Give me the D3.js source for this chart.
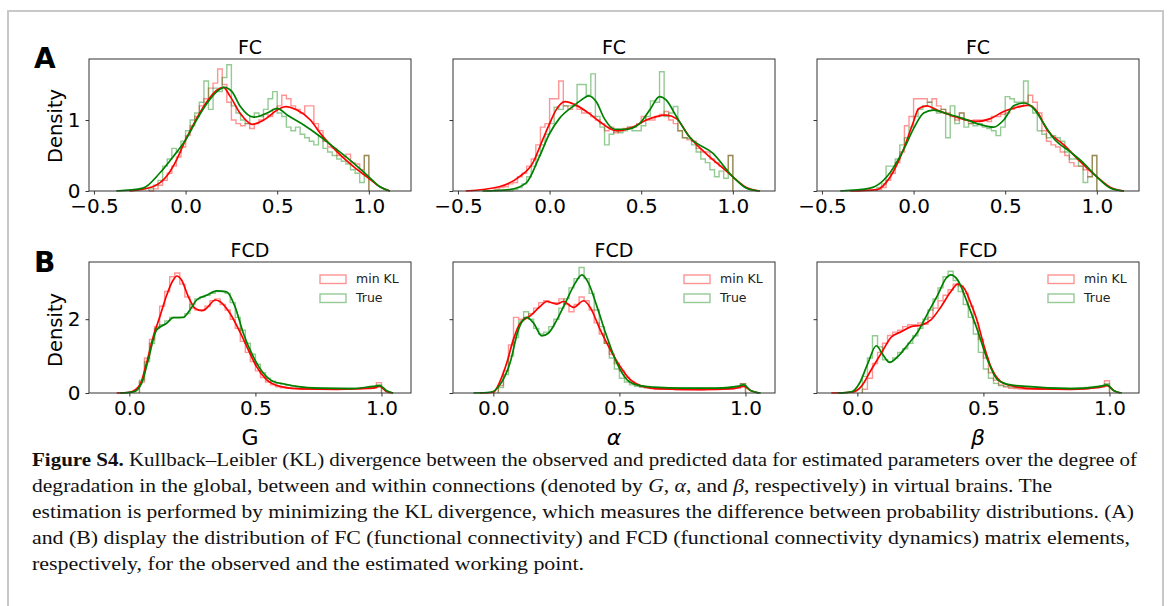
<!DOCTYPE html>
<html>
<head>
<meta charset="utf-8">
<script src="https://cdn.jsdelivr.net/npm/d3@7"></script>
<style>
  body { margin: 0; background: #fff; }
  svg { display: block; }
</style>
</head>
<body>
<svg id="fig" width="1170" height="606"></svg>
<script>
// ---- labels and ticks ----
const paramNames = ["G", "α", "β"];
const rowTitles = ["FC", "FCD"];
const legendLabels = ["min KL", "True"];
const xTicksFC = [-0.5, 0.0, 0.5, 1.0];
const xTicksFCD = [0.0, 0.5, 1.0];
const yTicksFC = [0, 1];
const yTicksFCD = [0, 2];

// ---- histogram bins ----
const binWidthFC = 0.025;
const binStartFC = [-0.2, -0.3, -0.2];
const binWidthFCD = 0.02;
const binStartFCD = [0.04, 0.02, 0.02];

// ---- FC histograms (density per bin) ----
const histFC_G_minKL = [
  0, 0.03, 0.08, 0.15, 0.25, 0.35, 0.48, 0.62,
  0.78, 0.92, 1.05, 1.2, 1.3, 1.45, 1.52, 1.72,
  1.5, 1.25, 1.0, 0.95, 0.92, 0.95, 0.88, 0.95,
  1.0, 1.08, 1.05, 1.15, 1.2, 1.35, 1.3, 1.2,
  1.15, 1.1, 1.2, 1.2, 0.95, 0.85, 0.7, 0.62,
  0.6, 0.5, 0.48, 0.52, 0.4, 0.38, 0.3, 0.5];
const histFC_G_true = [
  0.03, 0.08, 0.15, 0.35, 0.45, 0.6, 0.55, 0.7,
  0.85, 1.0, 1.1, 1.25, 1.55, 1.15, 1.45, 1.4,
  1.6, 1.78, 1.2, 1.1, 1.0, 0.95, 1.05, 1.1,
  1.05, 1.15, 1.3, 1.4, 1.1, 1.05, 0.9, 0.85,
  0.9, 0.8, 0.75, 0.7, 0.65, 0.77, 0.6, 0.55,
  0.5, 0.45, 0.42, 0.38, 0.3, 0.25, 0.12, 0.5];
const histFC_alpha_minKL = [
  0.03, 0.05, 0.06, 0.1, 0.12, 0.2, 0.25, 0.35,
  0.45, 0.65, 0.9, 0.95, 1.3, 1.3, 1.55, 1.2,
  1.15, 1.2, 1.15, 1.1, 1.1, 1.05, 1.0, 0.95,
  0.85, 0.9, 0.82, 0.85, 0.88, 0.9, 0.9, 0.95,
  1.05, 1.0, 1.0, 1.05, 1.08, 1.12, 1.0, 0.95,
  0.85, 0.75, 0.72, 0.7, 0.6, 0.55, 0.55, 0.45,
  0.4, 0.35, 0.3, 0.5];
const histFC_alpha_true = [
  0, 0, 0, 0, 0.02, 0.05, 0.1, 0.2,
  0.35, 0.5, 0.65, 0.8, 0.95, 1.18, 1.15, 1.2,
  1.2, 1.2, 1.5, 1.5, 1.35, 1.65, 1.05, 0.9,
  0.65, 0.8, 0.85, 0.82, 0.85, 0.9, 0.85, 0.85,
  0.92, 1.05, 1.27, 1.25, 1.68, 1.05, 1.1, 1.19,
  0.85, 0.75, 0.74, 0.65, 0.55, 0.45, 0.4, 0.3,
  0.2, 0.28, 0.18, 0.5];
const histFC_beta_minKL = [
  0.02, 0.05, 0.15, 0.25, 0.4, 0.55, 0.92, 1.05,
  1.3, 1.3, 1.3, 1.25, 1.3, 1.2, 1.15, 1.1,
  1.05, 1.0, 1.1, 1.0, 0.95, 1.0, 1.0, 1.0,
  0.98, 1.05, 1.05, 1.08, 1.1, 1.15, 1.2, 1.2,
  1.25, 1.35, 1.25, 1.1, 0.85, 0.7, 0.65, 0.62,
  0.55, 0.5, 0.4, 0.35, 0.35, 0.3, 0.2, 0.5];
const histFC_beta_true = [
  0.05, 0.1, 0.35, 0.35, 0.45, 0.65, 0.75, 0.9,
  1.05, 1.15, 1.2, 1.25, 1.15, 1.1, 1.15, 0.75,
  1.2, 0.95, 1.1, 0.9, 0.95, 0.92, 0.95, 0.9,
  0.88, 0.85, 0.78, 0.9, 1.33, 1.3, 1.25, 1.25,
  1.55, 1.2, 1.1, 0.85, 0.8, 0.75, 0.78, 0.75,
  0.7, 0.55, 0.45, 0.45, 0.35, 0.12, 0.2, 0.5];

// ---- FCD histograms ----
const histFCD_G_minKL = [
  0.3, 0.95, 1.45, 1.8, 2.35, 2.75, 3.15, 3.25,
  2.95, 2.6, 2.3, 2.25, 2.25, 2.35, 2.5, 2.55,
  2.4, 2.25, 2.0, 1.75, 1.4, 1.1, 0.85, 0.6,
  0.42, 0.3, 0.22, 0.17, 0.14, 0.13, 0.12, 0.12,
  0.11, 0.11, 0.11, 0.1, 0.1, 0.1, 0.1, 0.1,
  0.1, 0.1, 0.11, 0.11, 0.12, 0.12, 0.13, 0.28];
const histFCD_G_true = [
  0.35, 0.85, 1.35, 1.75, 1.85, 1.95, 2.05, 2.05,
  2.05, 2.15, 2.4, 2.55, 2.6, 2.65, 2.7, 2.75,
  2.75, 2.7, 2.45, 2.05, 1.7, 1.35, 1.05, 0.78,
  0.55, 0.4, 0.32, 0.27, 0.24, 0.21, 0.19, 0.17,
  0.15, 0.14, 0.13, 0.13, 0.13, 0.12, 0.12, 0.12,
  0.12, 0.12, 0.13, 0.13, 0.14, 0.15, 0.17, 0.22];
const histFCD_alpha_minKL = [
  0.2, 0.6, 1.3, 2.05, 2.0, 2.05, 2.15, 2.3,
  2.45, 2.5, 2.45, 2.45, 2.55, 2.4, 2.2, 2.4,
  2.6, 2.5, 2.25, 1.9, 1.6, 1.35, 1.05, 0.8,
  0.6, 0.42, 0.3, 0.22, 0.17, 0.14, 0.12, 0.11,
  0.1, 0.1, 0.1, 0.09, 0.09, 0.09, 0.09, 0.09,
  0.09, 0.1, 0.1, 0.1, 0.11, 0.11, 0.12, 0.13,
  0.25];
const histFCD_alpha_true = [
  0.15, 0.5, 1.0, 1.5, 1.95, 2.2, 2.0, 1.75,
  1.6, 1.65, 1.8, 2.0, 2.3, 2.55, 2.85, 3.1,
  3.4, 3.1, 2.7, 2.25, 1.8, 1.35, 0.95, 0.65,
  0.4, 0.3, 0.22, 0.18, 0.16, 0.15, 0.14, 0.14,
  0.13, 0.13, 0.13, 0.13, 0.13, 0.13, 0.13, 0.13,
  0.13, 0.13, 0.13, 0.13, 0.14, 0.15, 0.16, 0.18,
  0.25];
const histFCD_beta_minKL = [
  0.1, 0.4, 0.8, 1.1, 1.35, 1.56, 1.65, 1.7,
  1.8, 1.85, 1.85, 1.9, 1.86, 2.05, 2.3, 2.5,
  2.65, 2.8, 2.95, 2.9, 2.7, 2.35, 1.9, 1.45,
  0.95, 0.55, 0.35, 0.22, 0.16, 0.13, 0.12, 0.11,
  0.1, 0.1, 0.1, 0.1, 0.1, 0.1, 0.1, 0.1,
  0.1, 0.1, 0.1, 0.11, 0.12, 0.13, 0.14, 0.16,
  0.33];
const histFCD_beta_true = [
  0.45, 0.95, 1.55, 1.25, 0.9, 0.85, 0.95, 1.1,
  1.2, 1.35, 1.55, 1.75, 2.0, 2.25, 2.55, 2.85,
  3.15, 3.3, 3.05, 2.75, 2.4, 2.05, 1.6, 1.1,
  0.65, 0.4, 0.26, 0.2, 0.18, 0.16, 0.15, 0.15,
  0.14, 0.14, 0.14, 0.13, 0.13, 0.13, 0.13, 0.13,
  0.13, 0.13, 0.13, 0.14, 0.15, 0.16, 0.18, 0.2,
  0.25];

// ---- kernel density estimates [value, density] ----
const kdeFC_G_minKL = [[-0.306,0],[-0.179,0.06],[-0.106,0.2],[-0.049,0.44],[0,0.72],[0.06,1.02],[0.117,1.26],[0.17,1.42],[0.205,1.46],[0.244,1.33],[0.299,1.09],[0.363,0.94],[0.426,1.0],[0.5,1.14],[0.545,1.19],[0.608,1.14],[0.681,1.0],[0.736,0.81],[0.827,0.55],[0.918,0.34],[1.0,0.18],[1.06,0.06],[1.115,0]];
const kdeFC_G_true = [[-0.378,0],[-0.233,0.04],[-0.142,0.25],[-0.069,0.48],[0,0.72],[0.06,1.0],[0.117,1.235],[0.171,1.4],[0.211,1.46],[0.253,1.4],[0.299,1.19],[0.372,1.04],[0.445,1.1],[0.5,1.165],[0.554,1.07],[0.645,0.93],[0.736,0.765],[0.827,0.58],[0.918,0.39],[1.0,0.2],[1.06,0.06],[1.115,0]];
const kdeFC_alpha_minKL = [[-0.457,0],[-0.275,0.06],[-0.166,0.2],[-0.093,0.39],[-0.038,0.72],[0,0.95],[0.035,1.14],[0.084,1.26],[0.144,1.21],[0.217,1.09],[0.272,0.98],[0.364,0.85],[0.455,0.9],[0.528,1.0],[0.637,1.07],[0.692,1.02],[0.764,0.76],[0.874,0.48],[0.956,0.3],[1.0,0.2],[1.074,0.05],[1.147,0]];
const kdeFC_alpha_true = [[-0.366,0],[-0.22,0.02],[-0.129,0.11],[-0.056,0.48],[0,0.81],[0.053,1.02],[0.126,1.19],[0.172,1.28],[0.213,1.34],[0.254,1.26],[0.299,1.02],[0.354,0.87],[0.418,0.87],[0.491,0.95],[0.546,1.14],[0.6,1.33],[0.637,1.28],[0.692,1.05],[0.764,0.76],[0.892,0.53],[1.0,0.2],[1.074,0.04],[1.147,0]];
const kdeFC_beta_minKL = [[-0.346,0],[-0.2,0.02],[-0.127,0.2],[-0.064,0.53],[0,0.98],[0.027,1.16],[0.073,1.2],[0.128,1.14],[0.2,1.07],[0.273,1.01],[0.346,0.98],[0.419,1.02],[0.492,1.12],[0.565,1.18],[0.629,1.21],[0.674,1.12],[0.729,0.86],[0.82,0.65],[0.911,0.41],[1.0,0.2],[1.075,0.05],[1.148,0]];
const kdeFC_beta_true = [[-0.4,0],[-0.237,0.04],[-0.146,0.2],[-0.055,0.58],[0,0.88],[0.055,1.1],[0.109,1.14],[0.182,1.09],[0.273,1.02],[0.346,0.95],[0.437,0.9],[0.492,1.0],[0.546,1.2],[0.601,1.24],[0.656,1.16],[0.71,0.95],[0.765,0.74],[0.856,0.55],[0.929,0.39],[1.0,0.2],[1.075,0.04],[1.148,0]];

const kdeFCD_G_minKL = [[-0.05,0],[0,0.02],[0.042,0.22],[0.068,0.81],[0.095,1.53],[0.121,2.07],[0.148,2.65],[0.174,3.06],[0.188,3.17],[0.207,3.06],[0.234,2.61],[0.26,2.3],[0.287,2.23],[0.307,2.3],[0.34,2.52],[0.359,2.48],[0.399,2.16],[0.438,1.66],[0.478,1.08],[0.504,0.72],[0.544,0.36],[0.597,0.18],[0.676,0.11],[0.821,0.1],[0.966,0.13],[0.993,0.18],[1.019,0.04],[1.046,0]];
const kdeFCD_G_true = [[-0.037,0],[0.016,0.03],[0.049,0.27],[0.075,0.9],[0.108,1.71],[0.148,1.89],[0.174,2.04],[0.214,2.05],[0.24,2.25],[0.267,2.52],[0.307,2.65],[0.346,2.77],[0.386,2.74],[0.419,2.34],[0.452,1.62],[0.491,0.99],[0.531,0.54],[0.571,0.31],[0.61,0.25],[0.663,0.18],[0.755,0.13],[0.888,0.12],[0.966,0.18],[0.993,0.2],[1.019,0.07],[1.046,0]];
const kdeFCD_alpha_minKL = [[-0.053,0],[0,0.02],[0.026,0.31],[0.053,0.81],[0.079,1.44],[0.106,1.89],[0.146,2.09],[0.185,2.34],[0.212,2.48],[0.252,2.41],[0.278,2.48],[0.318,2.32],[0.358,2.5],[0.384,2.32],[0.424,1.71],[0.464,1.17],[0.503,0.72],[0.543,0.36],[0.583,0.2],[0.662,0.11],[0.821,0.09],[0.953,0.12],[0.993,0.18],[1.02,0.07],[1.053,0]];
const kdeFCD_alpha_true = [[-0.079,0],[-0.013,0.02],[0.026,0.22],[0.066,0.81],[0.099,1.71],[0.132,2.05],[0.159,1.9],[0.192,1.55],[0.218,1.62],[0.252,1.98],[0.291,2.52],[0.324,2.97],[0.351,3.2],[0.378,2.97],[0.411,2.34],[0.45,1.53],[0.49,0.81],[0.53,0.36],[0.569,0.22],[0.636,0.16],[0.755,0.13],[0.887,0.13],[0.967,0.18],[0.993,0.22],[1.02,0.07],[1.06,0]];
const kdeFCD_beta_minKL = [[-0.103,0],[-0.024,0.02],[0.016,0.18],[0.055,0.63],[0.095,1.08],[0.134,1.51],[0.174,1.66],[0.213,1.8],[0.253,1.84],[0.292,1.98],[0.332,2.34],[0.371,2.75],[0.398,2.95],[0.424,2.83],[0.45,2.43],[0.476,1.94],[0.503,1.26],[0.529,0.72],[0.569,0.31],[0.621,0.18],[0.713,0.11],[0.845,0.1],[0.963,0.16],[0.99,0.2],[1.016,0.07],[1.042,0]];
const kdeFCD_beta_true = [[-0.077,0],[-0.024,0.03],[0.009,0.27],[0.042,0.81],[0.075,1.28],[0.101,1.04],[0.128,0.83],[0.161,0.99],[0.2,1.31],[0.24,1.66],[0.279,2.16],[0.319,2.66],[0.352,3.11],[0.371,3.2],[0.398,3.06],[0.437,2.43],[0.476,1.71],[0.516,0.9],[0.556,0.36],[0.608,0.22],[0.713,0.16],[0.845,0.12],[0.963,0.18],[0.99,0.22],[1.016,0.07],[1.049,0]];

// ---- caption ----
const captionLines = [
  [{t: "Figure S4.", b: true}, {t: " Kullback–Leibler (KL) divergence between the observed and predicted data for estimated parameters over the degree of"}],
  [{t: "degradation in the global, between and within connections (denoted by "}, {t: "G", i: true}, {t: ", "}, {t: "α", i: true}, {t: ", and "}, {t: "β", i: true}, {t: ", respectively) in virtual brains. The"}],
  [{t: "estimation is performed by minimizing the KL divergence, which measures the difference between probability distributions. (A)"}],
  [{t: "and (B) display the distribution of FC (functional connectivity) and FCD (functional connectivity dynamics) matrix elements,"}],
  [{t: "respectively, for the observed and the estimated working point."}]
];
const captionWidths = [1105, 1020, 1102, 1098, 552];

// ---- layout ----
const svg = d3.select("#fig");
const colLeft = [89, 453, 817];
const axW = 322;
const rows = [
  { key: rowTitles[0], top: 59, bottom: 191, xDomain: [-0.527, 1.23], yDomain: [0, 1.86],
    xTicks: xTicksFC, yTicks: yTicksFC, binW: binWidthFC, binStart: binStartFC,
    hist: [[histFC_G_minKL, histFC_G_true], [histFC_alpha_minKL, histFC_alpha_true], [histFC_beta_minKL, histFC_beta_true]],
    kde: [[kdeFC_G_minKL, kdeFC_G_true], [kdeFC_alpha_minKL, kdeFC_alpha_true], [kdeFC_beta_minKL, kdeFC_beta_true]],
    letter: "A", letterY: 68, titleY: 54, densityY: 126 },
  { key: rowTitles[1], top: 262, bottom: 393, xDomain: [-0.16, 1.117], yDomain: [0, 3.55],
    xTicks: xTicksFCD, yTicks: yTicksFCD, binW: binWidthFCD, binStart: binStartFCD,
    hist: [[histFCD_G_minKL, histFCD_G_true], [histFCD_alpha_minKL, histFCD_alpha_true], [histFCD_beta_minKL, histFCD_beta_true]],
    kde: [[kdeFCD_G_minKL, kdeFCD_G_true], [kdeFCD_alpha_minKL, kdeFCD_alpha_true], [kdeFCD_beta_minKL, kdeFCD_beta_true]],
    letter: "B", letterY: 272, titleY: 257, densityY: 330, legend: true, xLabel: true }
];

const lineColors = ["#ff0000", "#008000"];
const histColors = ["rgba(255,0,0,0.42)", "rgba(0,128,0,0.42)"];
const sans = "DejaVu Sans, sans-serif";
const tickFont = 20;

// outer frame
svg.append("rect").attr("x", 8).attr("y", 11).attr("width", 1155).attr("height", 640)
  .attr("fill", "none").attr("stroke", "#c8c8c8").attr("stroke-width", 2);

rows.forEach((row) => {
  // panel letter
  svg.append("text").attr("x", 34).attr("y", row.letterY)
    .attr("font-family", "DejaVu Sans, sans-serif").attr("font-weight", 700)
    .attr("font-size", 28).attr("fill", "#000").text(row.letter);

  // y label
  svg.append("text")
    .attr("transform", `translate(62,${row.densityY}) rotate(-90)`)
    .attr("text-anchor", "middle").attr("font-family", sans).attr("font-size", 19.5)
    .attr("fill", "#000").text("Density");

  colLeft.forEach((left, ci) => {
    const x = d3.scaleLinear().domain(row.xDomain).range([left, left + axW]);
    const y = d3.scaleLinear().domain(row.yDomain).range([row.bottom, row.top]);
    const g = svg.append("g");

    // step histograms
    row.hist[ci].forEach((heights, si) => {
      const start = row.binStart[ci];
      const pts = [[start, 0]];
      heights.forEach((h, i) => pts.push([start + i * row.binW, h]));
      const end = start + heights.length * row.binW;
      pts.push([end, heights[heights.length - 1]]);
      pts.push([end, 0]);
      g.append("path")
        .attr("d", d3.line().x(d => x(d[0])).y(d => y(d[1])).curve(d3.curveStepAfter)(pts))
        .attr("fill", "none").attr("stroke", histColors[si]).attr("stroke-width", 1.4);
    });

    // KDE curves
    row.kde[ci].forEach((pts, si) => {
      g.append("path")
        .attr("d", d3.line().x(d => x(d[0])).y(d => y(d[1])).curve(d3.curveMonotoneX)(pts))
        .attr("fill", "none").attr("stroke", lineColors[si]).attr("stroke-width", 1.7);
    });

    // axes frame
    g.append("rect").attr("x", left).attr("y", row.top).attr("width", axW)
      .attr("height", row.bottom - row.top).attr("fill", "none")
      .attr("stroke", "#333").attr("stroke-width", 1);

    // x axis
    const xa = g.append("g").attr("transform", `translate(0,${row.bottom})`)
      .call(d3.axisBottom(x).tickValues(row.xTicks).tickFormat(d3.format(".1f"))
        .tickSize(3.5).tickPadding(4));
    xa.select(".domain").remove();
    xa.selectAll("line").attr("stroke", "#333");
    xa.selectAll("text").attr("font-family", sans).attr("font-size", tickFont).attr("fill", "#000");

    // y axis
    const ya = g.append("g").attr("transform", `translate(${left},0)`)
      .call(d3.axisLeft(y).tickValues(row.yTicks).tickFormat(ci === 0 ? d3.format("d") : () => "")
        .tickSize(3.5).tickPadding(5));
    ya.select(".domain").remove();
    ya.selectAll("line").attr("stroke", "#333");
    ya.selectAll("text").attr("font-family", sans).attr("font-size", tickFont).attr("fill", "#000");

    // title
    g.append("text").attr("x", left + axW / 2).attr("y", row.titleY)
      .attr("text-anchor", "middle").attr("font-family", sans).attr("font-size", 19)
      .attr("fill", "#000").text(row.key);

    // parameter label
    if (row.xLabel) {
      g.append("text").attr("x", left + axW / 2).attr("y", 445)
        .attr("text-anchor", "middle").attr("font-family", sans).attr("font-size", 22)
        .attr("font-style", ci === 0 ? "normal" : "italic")
        .attr("fill", "#000").text(paramNames[ci]);
    }

    // legend
    if (row.legend) {
      const lx = left + axW - 91;
      legendLabels.forEach((lab, li) => {
        const cy = 279 + li * 19;
        g.append("rect").attr("x", lx).attr("y", cy - 4).attr("width", 26).attr("height", 8.5)
          .attr("fill", "none").attr("stroke", histColors[li]).attr("stroke-width", 1.4);
        g.append("text").attr("x", lx + 36).attr("y", cy).attr("dy", "0.35em")
          .attr("font-family", sans).attr("font-size", 12.5).attr("fill", "#222").text(lab);
      });
    }
  });
});

// caption
const capTop = 466, capStep = 26;
captionLines.forEach((parts, li) => {
  const t = svg.append("text").attr("x", 32).attr("y", capTop + li * capStep)
    .attr("font-family", "Liberation Serif, Times New Roman, serif").attr("font-size", 19)
    .attr("fill", "#111")
    .attr("textLength", captionWidths[li]).attr("lengthAdjust", "spacingAndGlyphs");
  parts.forEach(p => {
    t.append("tspan").attr("font-weight", p.b ? 700 : 400)
      .attr("font-style", p.i ? "italic" : "normal").text(p.t);
  });
});
</script>
</body>
</html>
